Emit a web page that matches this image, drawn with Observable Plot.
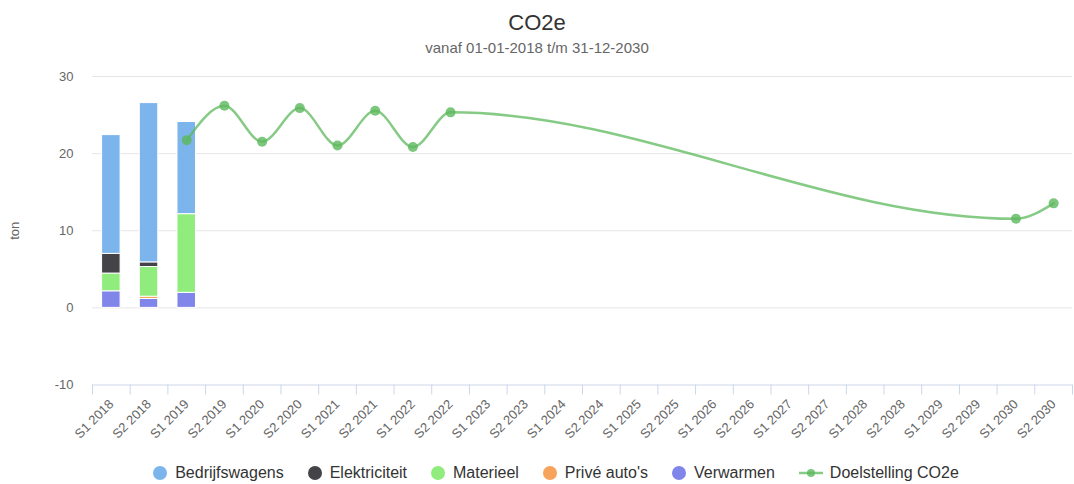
<!DOCTYPE html>
<html>
<head>
<meta charset="utf-8">
<script src="https://cdn.jsdelivr.net/npm/d3@7"></script>
<script src="https://cdn.jsdelivr.net/npm/@observablehq/plot@0.6"></script>
<style>
  html, body { margin: 0; padding: 0; background: #fff; }
  body { width: 1074px; height: 484px; overflow: hidden; font-family: "Liberation Sans", Arial, Helvetica, sans-serif; }
  #head { position: relative; height: 65px; }
  #title { position: absolute; left: 0; right: 0; top: 9px; line-height: 28px; text-align: center; font-size: 22px; color: #333; }
  #subtitle { position: absolute; left: 0; right: 0; top: 38px; line-height: 20px; text-align: center; font-size: 15px; color: #666; }
  #chart svg { display: block; }
  #legend { height: 22px; display: flex; justify-content: center; align-items: center; gap: 24px; font-size: 16px; color: #333; padding-left: 38px; box-sizing: border-box; }
  .item { display: flex; align-items: center; white-space: nowrap; }
  .sym { width: 14px; height: 14px; border-radius: 50%; margin-right: 8px; display: inline-block; }
  .linesym { margin-right: 7px; display: block; }
</style>
</head>
<body>
<div id="head"><div id="title"></div><div id="subtitle"></div></div>
<div id="chart"></div>
<div id="legend"></div>
<script>
const titleText = "CO2e";
const subtitleText = "vanaf 01-01-2018 t/m 31-12-2030";
const yAxisTitle = "ton";

const categories = [
  "S1 2018","S2 2018","S1 2019","S2 2019","S1 2020","S2 2020","S1 2021","S2 2021",
  "S1 2022","S2 2022","S1 2023","S2 2023","S1 2024","S2 2024","S1 2025","S2 2025",
  "S1 2026","S2 2026","S1 2027","S2 2027","S1 2028","S2 2028","S1 2029","S2 2029",
  "S1 2030","S2 2030"
];

const seriesNames = ["Bedrijfswagens", "Elektriciteit", "Materieel", "Privé auto's", "Verwarmen"];
const seriesColors = ["#7cb5ec", "#434348", "#90ed7d", "#f7a35c", "#8085e9"];
// stacking order bottom -> top
const stackOrder = ["Verwarmen", "Privé auto's", "Materieel", "Elektriciteit", "Bedrijfswagens"];

// values for S1 2018, S2 2018, S1 2019
const bedrijfswagens = [15.4, 20.65, 11.95];
const elektriciteit  = [2.55, 0.6, 0];
const materieel      = [2.3, 3.85, 10.2];
const priveAutos     = [0, 0.3, 0];
const verwarmen      = [2.15, 1.15, 1.95];

const lineName = "Doelstelling CO2e";
const lineColor = "#5cb85c";
const doelstelling = [
  null, null, 21.75, 26.2, 21.55, 25.9, 21.05, 25.55, 20.85, 25.35,
  null, null, null, null, null, null, null, null, null, null, null, null, null, null,
  11.55, 13.55
];

const yTicks = [-10, 0, 10, 20, 30];

document.getElementById("title").textContent = titleText;
document.getElementById("subtitle").textContent = subtitleText;

const seriesValues = {
  "Bedrijfswagens": bedrijfswagens,
  "Elektriciteit": elektriciteit,
  "Materieel": materieel,
  "Privé auto's": priveAutos,
  "Verwarmen": verwarmen
};
const barData = [];
for (const s of stackOrder) {
  seriesValues[s].forEach((v, i) => {
    if (v != null && v > 0) barData.push({category: categories[i], series: s, value: v});
  });
}
const lineData = doelstelling
  .map((v, i) => ({category: categories[i], value: v}))
  .filter(d => d.value != null);

const W = 1074, H = 397, mL = 92, mR = 2, mT = 11, mB = 77.5;
const step = (W - mL - mR) / categories.length;
const plotH = H - mT - mB;

const chart = Plot.plot({
  width: W, height: H,
  marginLeft: mL, marginRight: mR, marginTop: mT, marginBottom: mB,
  style: {fontFamily: "'Liberation Sans', Arial, Helvetica, sans-serif", background: "#fff", overflow: "visible"},
  x: {type: "band", domain: categories, padding: 0, round: false, label: null},
  y: {domain: [-10, 30], label: null},
  color: {domain: seriesNames, range: seriesColors},
  marks: [
    Plot.gridY(yTicks.filter(d => d !== -10), {stroke: "#e6e6e6", strokeOpacity: 1, strokeWidth: 1}),
    Plot.axisY(yTicks, {
      tickSize: 0, tickPadding: 19, fontSize: 13, fill: "#666",
      tickFormat: d => String(d),
      label: yAxisTitle, labelArrow: "none", labelAnchor: "center", labelOffset: 83
    }),
    Plot.axisX({tickRotate: -45, tickSize: 0, tickPadding: 17, fontSize: 13, fill: "#666", label: null}),
    Plot.barY(barData, {
      x: "category", y: "value", fill: "series", z: "series", order: stackOrder,
      stroke: "#fff", strokeWidth: 1, insetLeft: 9.6, insetRight: 9.6
    }),
    Plot.ruleY([-10], {stroke: "#ccd6eb", strokeWidth: 1}),
    Plot.ruleX(categories, {dx: -step / 2, stroke: "#ccd6eb", insetTop: plotH, insetBottom: -10}),
    Plot.ruleX([categories[categories.length - 1]], {dx: step / 2, stroke: "#ccd6eb", insetTop: plotH, insetBottom: -10}),
    Plot.line(lineData, {x: "category", y: "value", curve: "monotone-x", stroke: lineColor, strokeOpacity: 0.75, strokeWidth: 2.5}),
    Plot.dot(lineData, {x: "category", y: "value", r: 5, fill: lineColor, fillOpacity: 0.8})
  ]
});
document.getElementById("chart").appendChild(chart);

const legend = document.getElementById("legend");
seriesNames.forEach((name, i) => {
  const item = document.createElement("div");
  item.className = "item";
  const sym = document.createElement("span");
  sym.className = "sym";
  sym.style.background = seriesColors[i];
  item.appendChild(sym);
  item.appendChild(document.createTextNode(name));
  legend.appendChild(item);
});
{
  const item = document.createElement("div");
  item.className = "item";
  const ns = "http://www.w3.org/2000/svg";
  const svg = document.createElementNS(ns, "svg");
  svg.setAttribute("width", "24"); svg.setAttribute("height", "14");
  svg.setAttribute("class", "linesym");
  const ln = document.createElementNS(ns, "line");
  ln.setAttribute("x1", "0"); ln.setAttribute("x2", "24"); ln.setAttribute("y1", "7"); ln.setAttribute("y2", "7");
  ln.setAttribute("stroke", lineColor); ln.setAttribute("stroke-opacity", "0.75"); ln.setAttribute("stroke-width", "2.5");
  const c = document.createElementNS(ns, "circle");
  c.setAttribute("cx", "12"); c.setAttribute("cy", "7"); c.setAttribute("r", "4");
  c.setAttribute("fill", lineColor); c.setAttribute("fill-opacity", "0.8");
  svg.appendChild(ln); svg.appendChild(c);
  item.appendChild(svg);
  item.appendChild(document.createTextNode(lineName));
  legend.appendChild(item);
}
</script>
</body>
</html>
